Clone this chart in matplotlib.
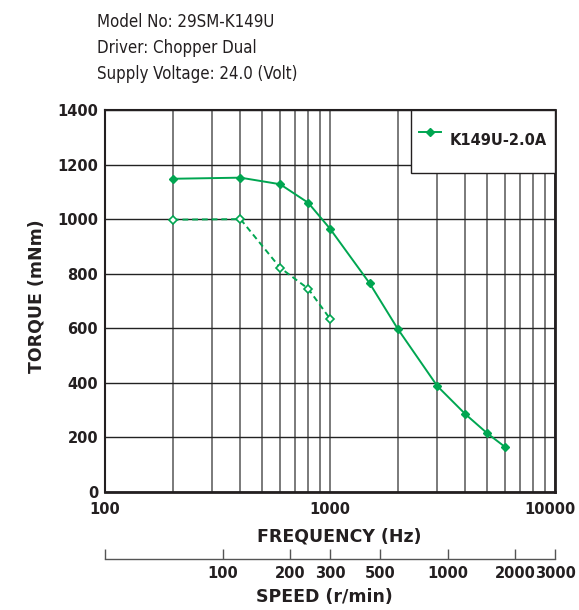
import numpy as np
import matplotlib
matplotlib.use("Agg")
import matplotlib.pyplot as plt
from matplotlib import ticker
from matplotlib import font_manager
from matplotlib import transforms

# 数据
freq_solid = [200, 400, 600, 800, 1000, 1500, 2000, 3000, 4000, 5000, 6000]
torque_solid = [1148, 1152, 1128, 1060, 965, 765, 598, 388, 285, 215, 165]
freq_dashed = [200, 400, 600, 800, 1000]
torque_dashed = [998, 1000, 822, 745, 635]
speed_ticks = [100, 200, 300, 500, 1000, 2000, 3000]
torque_ticks = [0, 200, 400, 600, 800, 1000, 1200, 1400]
freq_ticks = [100, 1000, 10000]
header = ["Model No: 29SM-K149U", "Driver: Chopper Dual", "Supply Voltage: 24.0 (Volt)"]
series_label = "K149U-2.0A"

green = "#00a651"
dark = "#231f20"
pulses_per_rev = 200

fig = plt.figure(figsize=(5.79, 6.10), dpi=100)
ax = fig.add_axes([105 / 579, 118 / 610, 450 / 579, 382 / 610])

ax.plot(freq_solid, torque_solid, color=green, lw=1.4, marker="D", ms=4,
        label=series_label, zorder=5)
ax.plot(freq_dashed, torque_dashed, color=green, lw=1.4, ls=(0, (3, 2)), marker="D",
        ms=4, mfc="white", mew=1.2, zorder=5)

ax.set_xscale("log")
ax.set_xlim(100, 10000)
ax.set_ylim(0, 1400)
ax.set_yticks(torque_ticks)
ax.set_xticks(freq_ticks)
ax.xaxis.set_major_formatter(ticker.FuncFormatter(lambda v, p: f"{v:.0f}"))
ax.xaxis.set_minor_formatter(ticker.NullFormatter())
ax.tick_params(axis="both", which="both", length=0, pad=5)
ax.tick_params(axis="x", pad=7)
tick_font = dict(family="DejaVu Sans", weight="bold", size=10.5)
for lab in ax.get_xticklabels() + ax.get_yticklabels():
    lab.set_fontproperties(font_manager.FontProperties(**tick_font))
    lab.set_color(dark)
# 最右边的 10000 稍微左移，避免出界
last = ax.get_xticklabels()[-1]
last.set_transform(last.get_transform()
                   + transforms.ScaledTranslation(-4 / 72, 0, fig.dpi_scale_trans))

# 网格
ax.grid(True, which="both", axis="x", color="#7a7a7a", lw=1.4)
ax.grid(True, which="major", axis="y", color="#222222", lw=1.0)
for s in ["left", "top"]:
    ax.spines[s].set_linewidth(1.5)
for s in ["bottom", "right"]:
    ax.spines[s].set_linewidth(2.0)
for s in ax.spines.values():
    s.set_color(dark)

label_font = dict(fontfamily="DejaVu Sans", fontweight="bold", fontsize=12.5, color=dark)
ax.set_ylabel("TORQUE (mNm)", labelpad=8, **label_font)
ax.set_xlabel("FREQUENCY (Hz)", labelpad=8, **label_font)
ax.xaxis.label.set_x(0.52)
ax.yaxis.label.set_y(0.513)

leg = ax.legend(loc="upper right", borderaxespad=0, fancybox=False, numpoints=1,
                handlelength=1.5, handleheight=4.6, handletextpad=0.6, borderpad=0.55,
                prop={"family": "DejaVu Sans", "weight": "bold", "size": 10.5})
leg.get_frame().set_edgecolor(dark)
leg.get_frame().set_linewidth(1.0)
leg.get_frame().set_alpha(1)
for t in leg.get_texts():
    t.set_color(dark)

# 转速轴
to_speed = lambda f: np.asarray(f) * 60.0 / pulses_per_rev
to_freq = lambda s: np.asarray(s) * pulses_per_rev / 60.0
sec = ax.secondary_xaxis(-67 / 382, functions=(to_speed, to_freq))
sec.set_xscale("log")
sec.set_xticks(speed_ticks)
sec.xaxis.set_major_formatter(ticker.FuncFormatter(lambda v, p: f"{v:.0f}"))
sec.xaxis.set_minor_locator(ticker.FixedLocator([to_speed(100)]))
sec.xaxis.set_minor_formatter(ticker.NullFormatter())
sec.tick_params(axis="x", which="both", direction="in", length=7, width=1,
                color="#555555", pad=5)
sec.spines["bottom"].set_color("#555555")
sec.spines["bottom"].set_linewidth(1.0)
for lab in sec.get_xticklabels():
    lab.set_fontproperties(font_manager.FontProperties(**tick_font))
    lab.set_color(dark)
sec.set_xlabel("SPEED (r/min)", labelpad=5, **label_font)
sec.xaxis.label.set_x(0.487)

# 标题信息
for i, line in enumerate(header):
    fig.text(97 / 579, 1 - (27 + 26 * i) / 610, line, ha="left", va="baseline",
             fontsize=12.1, color=dark, fontstretch="condensed",
             family=["Liberation Sans Narrow", "DejaVu Sans"])

fig.savefig("out.png", dpi=100)
